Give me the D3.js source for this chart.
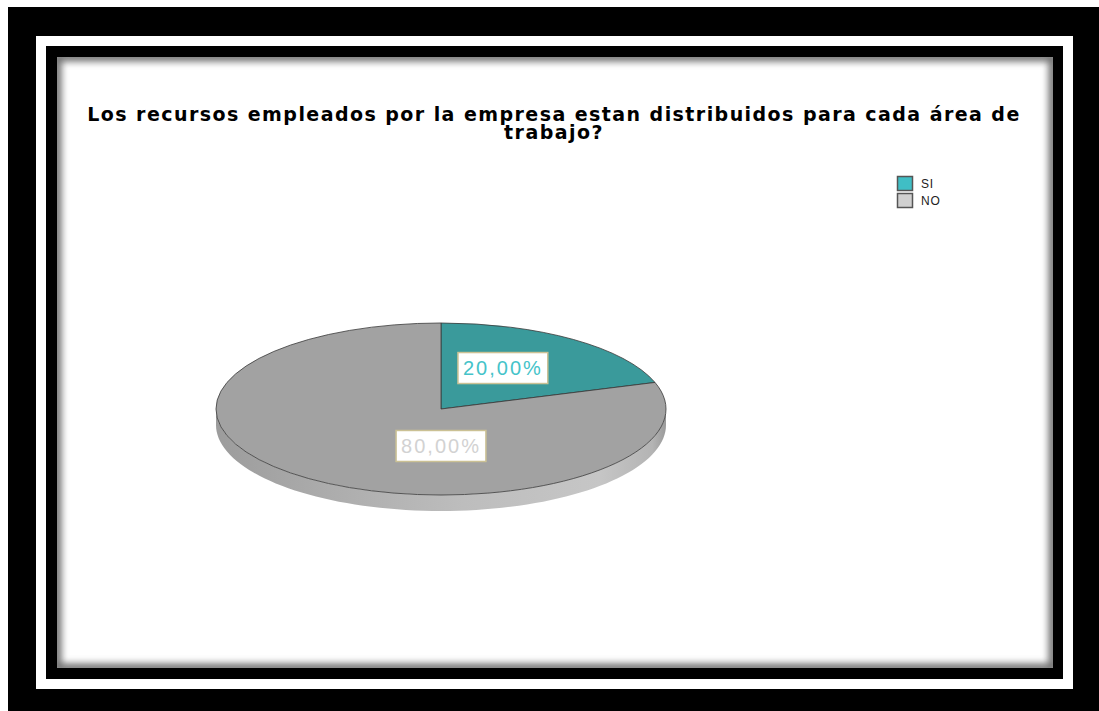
<!DOCTYPE html>
<html>
<head>
<meta charset="utf-8">
<script src="https://cdn.jsdelivr.net/npm/d3@7"></script>
<style>
  html, body { margin: 0; padding: 0; background: #fff; }
  svg { display: block; }
</style>
</head>
<body>
<svg id="chart" width="1099" height="711"></svg>
<script>
// ---- data ----
const titleLines = [
  "Los recursos empleados por la empresa estan distribuidos para cada área de",
  "trabajo?"
];
const categories = ["SI", "NO"];
const values = [20, 80];
const valueLabels = ["20,00%", "80,00%"];

// ---- styles ----
const topColors = ["#3a9a9b", "#a2a2a2"];
const legendColors = ["#40bec5", "#d0d0d0"];
const labelTextColors = ["#45c3c9", "#d2d2d2"];
const FONT = "'Liberation Sans', Arial, sans-serif";
const TITLE_FONT = "'DejaVu Sans', Verdana, sans-serif";

const svg = d3.select("#chart");
const W = 1099, H = 711;

// ---- frame ----
const defs = svg.append("defs");
svg.append("rect").attr("x", 8).attr("y", 7).attr("width", W - 8).attr("height", H - 7).attr("fill", "#000");
svg.append("rect").attr("x", 36).attr("y", 36).attr("width", 1037).attr("height", 653).attr("fill", "#fff");
svg.append("rect").attr("x", 46).attr("y", 46).attr("width", 1017).attr("height", 633).attr("fill", "#000");

const panel = { x: 57, y: 57, w: 996, h: 611 };
svg.append("rect").attr("x", panel.x).attr("y", panel.y).attr("width", panel.w).attr("height", panel.h).attr("fill", "#fff");

// inner shadow along the panel edges
defs.append("clipPath").attr("id", "panelClip")
  .append("rect").attr("x", panel.x).attr("y", panel.y).attr("width", panel.w).attr("height", panel.h);
defs.append("filter").attr("id", "soft").attr("x", "-5%").attr("y", "-5%").attr("width", "110%").attr("height", "110%")
  .append("feGaussianBlur").attr("stdDeviation", 3.5);
svg.append("g").attr("clip-path", "url(#panelClip)")
  .append("rect")
  .attr("x", panel.x).attr("y", panel.y).attr("width", panel.w).attr("height", panel.h)
  .attr("fill", "none").attr("stroke", "#6e6e6e").attr("stroke-width", 9)
  .attr("filter", "url(#soft)");

// ---- title ----
const titleG = svg.append("g").attr("font-family", TITLE_FONT).attr("font-weight", "bold")
  .attr("font-size", 19).attr("fill", "#000").attr("text-anchor", "middle");
const line1Width = 932;
const t1 = titleG.append("text").attr("x", 554).attr("y", 121).text(titleLines[0]);
const natural = t1.node().getComputedTextLength();
const spacing = (line1Width - natural) / (titleLines[0].length - 1);
t1.attr("letter-spacing", spacing);
titleG.append("text").attr("x", 554).attr("y", 139).attr("letter-spacing", spacing).text(titleLines[1]);

// ---- pie ----
const cx = 441, cy = 409, rx = 225, ry = 86, depth = 16;
const pie = d3.pie().sort(null).value(d => d)(values);
const arc = d3.arc().innerRadius(0).outerRadius(rx);

const px = a => cx + rx * Math.sin(a);
const py = a => cy - ry * Math.cos(a);

// side wall gradient
const sideGrad = defs.append("linearGradient").attr("id", "sideGrad")
  .attr("gradientUnits", "userSpaceOnUse")
  .attr("x1", cx - rx).attr("x2", cx + rx).attr("y1", 0).attr("y2", 0);
[[0, "#9c9c9c"], [0.25, "#acacac"], [0.55, "#bdbdbd"], [0.85, "#c6c6c6"], [0.97, "#b4b4b4"], [1, "#9a9a9a"]]
  .forEach(([o, c]) => sideGrad.append("stop").attr("offset", o).attr("stop-color", c));

const sideG = svg.append("g");
pie.forEach((d, i) => {
  const s = Math.max(d.startAngle, Math.PI / 2);
  const e = Math.min(d.endAngle, 3 * Math.PI / 2);
  if (s >= e) return;
  const p = d3.path();
  p.moveTo(px(s), py(s));
  // sample the front rim along the ellipse
  const n = 80;
  for (let k = 1; k <= n; k++) { const a = s + (e - s) * k / n; p.lineTo(px(a), py(a)); }
  for (let k = n; k >= 0; k--) { const a = s + (e - s) * k / n; p.lineTo(px(a), py(a) + depth); }
  p.closePath();
  sideG.append("path").attr("d", p.toString())
    .attr("fill", i === 1 ? "url(#sideGrad)" : d3.color(topColors[i]).darker(0.4))
    .attr("stroke", "none");
});

// top face
const topG = svg.append("g").attr("transform", `translate(${cx},${cy}) scale(1,${ry / rx})`);
topG.selectAll("path").data(pie).join("path")
  .attr("d", arc)
  .attr("fill", (d, i) => topColors[i])
  .attr("stroke", "#3a3a3a").attr("stroke-width", 1)
  .attr("stroke-opacity", 0.8)
  .attr("vector-effect", "non-scaling-stroke");

// ---- value labels ----
const labelAnchors = [
  { angle: Math.PI / 6, frac: 0.55 },
  { angle: Math.PI, frac: 0.43 }
];
const labG = svg.append("g").attr("font-family", FONT).attr("font-size", 20);
pie.forEach((d, i) => {
  const a = labelAnchors[i];
  const lx = cx + rx * a.frac * Math.sin(a.angle);
  const ly = cy - ry * a.frac * Math.cos(a.angle);
  const g = labG.append("g");
  const txt = g.append("text").attr("x", lx).attr("y", ly + 7)
    .attr("text-anchor", "middle").attr("letter-spacing", 2)
    .attr("fill", labelTextColors[i]).text(valueLabels[i]);
  const bb = txt.node().getBBox();
  g.insert("rect", "text")
    .attr("x", lx - bb.width / 2 - 5).attr("y", ly - 15.5)
    .attr("width", bb.width + 10).attr("height", 31)
    .attr("fill", "#fff").attr("stroke", "#cbc194").attr("stroke-width", 1.5);
});

// ---- legend ----
const legG = svg.append("g").attr("font-family", FONT).attr("font-size", 12);
categories.forEach((c, i) => {
  const y = 176 + i * 17;
  legG.append("rect").attr("x", 897.5).attr("y", y + 0.5).attr("width", 15).attr("height", 14)
    .attr("fill", legendColors[i]).attr("stroke", "#555").attr("stroke-width", 1.5);
  legG.append("text").attr("x", 921).attr("y", y + 12).attr("fill", "#222")
    .attr("letter-spacing", 0.8).text(c);
});
</script>
</body>
</html>
